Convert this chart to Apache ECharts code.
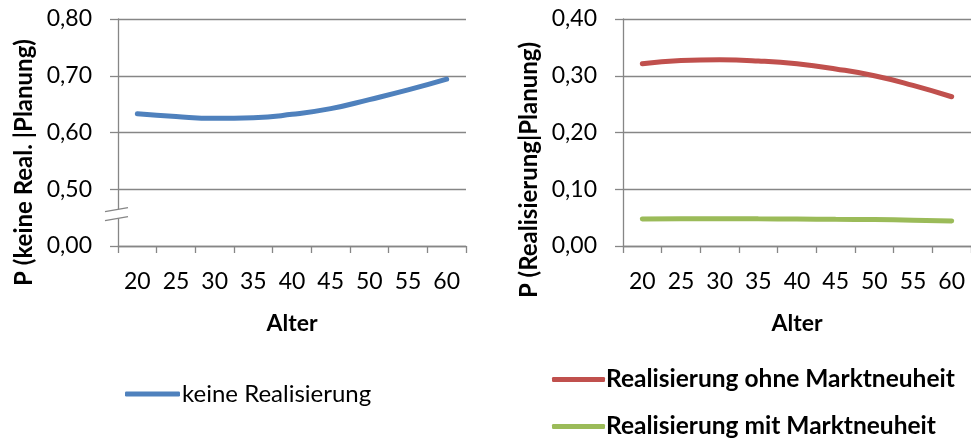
<!DOCTYPE html>
<html><head><meta charset="utf-8">
<script src="https://cdn.jsdelivr.net/npm/echarts@6/dist/echarts.min.js"></script>
<style>html,body{margin:0;padding:0;background:#fff}#c{width:971px;height:441px}</style>
</head><body><div id="c"></div>
<script>
// ---- data ----
const ages = ['20','25','30','35','40','45','50','55','60'];
const keineRealisierung = [0.633,0.628,0.625,0.626,0.632,0.642,0.658,0.675,0.694];
const ohneMarktneuheit = [0.321,0.327,0.328,0.326,0.321,0.312,0.300,0.283,0.263];
const mitMarktneuheit = [0.0475,0.048,0.048,0.0478,0.0475,0.047,0.0465,0.0455,0.044];
const leftTickLabels = ['0,00','0,50','0,60','0,70','0,80']; // broken axis: bottom tick shows 0,00
const rightTickLabels = ['0,00','0,10','0,20','0,30','0,40'];
const seriesNames = ['keine Realisierung','Realisierung ohne Marktneuheit','Realisierung mit Marktneuheit'];

// ---- style ----
const FONT = 'Lato, "Open Sans", sans-serif';
const GRAY = '#868686';
const COLORS = ['#4F81BD','#C0504D','#9BBB59'];
const G1 = {left:118, top:19, width:348, height:227};
const G2 = {left:623, top:19, width:348, height:227};

function xAxis(gi){
  return {
    type:'category', gridIndex:gi, data:ages, boundaryGap:true,
    axisLine:{show:true, lineStyle:{color:GRAY, width:1.3}},
    axisTick:{show:true, length:7, lineStyle:{color:GRAY, width:1.3}},
    axisLabel:{color:'#000', fontFamily:FONT, fontSize:23, margin:24},
    name:'Alter', nameLocation:'middle', nameGap:66,
    nameTextStyle:{color:'#000', fontFamily:FONT, fontSize:23, fontWeight:'bold'},
    splitLine:{show:false}
  };
}
function yAxis(gi, min, max, labels, name, pad){
  return {
    type:'value', gridIndex:gi, min:min, max:max, interval:(max-min)/4,
    axisLine:{show:true, lineStyle:{color:GRAY, width:1.3}},
    axisTick:{show:true, length:8, lineStyle:{color:GRAY, width:1.3}},
    axisLabel:{color:'#000', fontFamily:FONT, fontSize:23, margin:26,
      formatter:(v,i)=>labels[i]},
    splitLine:{show:true, lineStyle:{color:GRAY, width:1.3}},
    name:name, nameLocation:'middle', nameGap:82, nameRotate:90,
    nameTextStyle:{color:'#000', fontFamily:FONT, fontSize:24, fontWeight:'bold', padding:[0,pad,0,0]}
  };
}
function line(name, xi, data, color){
  return {
    name:name, type:'line', xAxisIndex:xi, yAxisIndex:xi, data:data,
    smooth:true, symbol:'none', color:color,
    lineStyle:{width:5, color:color, cap:'round'}
  };
}

const chart = echarts.init(document.getElementById('c'), null, {renderer:'canvas'});
chart.setOption({
  animation:false,
  backgroundColor:'#fff',
  grid:[G1, G2],
  xAxis:[xAxis(0), xAxis(1)],
  yAxis:[
    yAxis(0, 0.4, 0.8, leftTickLabels, 'P (keine Real. |Planung)', 60),
    yAxis(1, 0, 0.4, rightTickLabels, 'P (Realisierung|Planung)', 75)
  ],
  legend:[
    {data:[seriesNames[0]], left:125, top:382, padding:0, icon:'roundRect', itemWidth:55, itemHeight:5, itemGap:10,
     textStyle:{color:'#000', fontFamily:FONT, fontSize:24, padding:[0,0,0,-3]}},
    {data:[seriesNames[1], seriesNames[2]], orient:'vertical', left:552, top:367, padding:0, icon:'roundRect',
     itemWidth:53, itemHeight:5, itemGap:22,
     textStyle:{color:'#000', fontFamily:FONT, fontSize:24.5, fontWeight:'bold', padding:[0,0,0,-4]}}
  ],
  series:[
    line(seriesNames[0], 0, keineRealisierung, COLORS[0]),
    line(seriesNames[1], 1, ohneMarktneuheit, COLORS[1]),
    line(seriesNames[2], 1, mitMarktneuheit, COLORS[2])
  ]
});

// axis break marker on the left value axis, between the bottom tick and the next one
const y0 = chart.convertToPixel({yAxisIndex:0}, 0.4);
const y1 = chart.convertToPixel({yAxisIndex:0}, 0.5);
const cy = (y0 + y1) / 2 - 4;
const ax = G1.left;
chart.setOption({
  graphic:[
    {type:'polygon', shape:{points:[[ax-13,cy-2],[ax+10,cy-6],[ax+10,cy+3],[ax-13,cy+7]]}, style:{fill:'#fff'}, z:100},
    {type:'line', shape:{x1:ax-13,y1:cy-2,x2:ax+10,y2:cy-6}, style:{stroke:GRAY, lineWidth:1.3}, z:101},
    {type:'line', shape:{x1:ax-13,y1:cy+7,x2:ax+10,y2:cy+3}, style:{stroke:GRAY, lineWidth:1.3}, z:101}
  ]
});
</script>
</body></html>
